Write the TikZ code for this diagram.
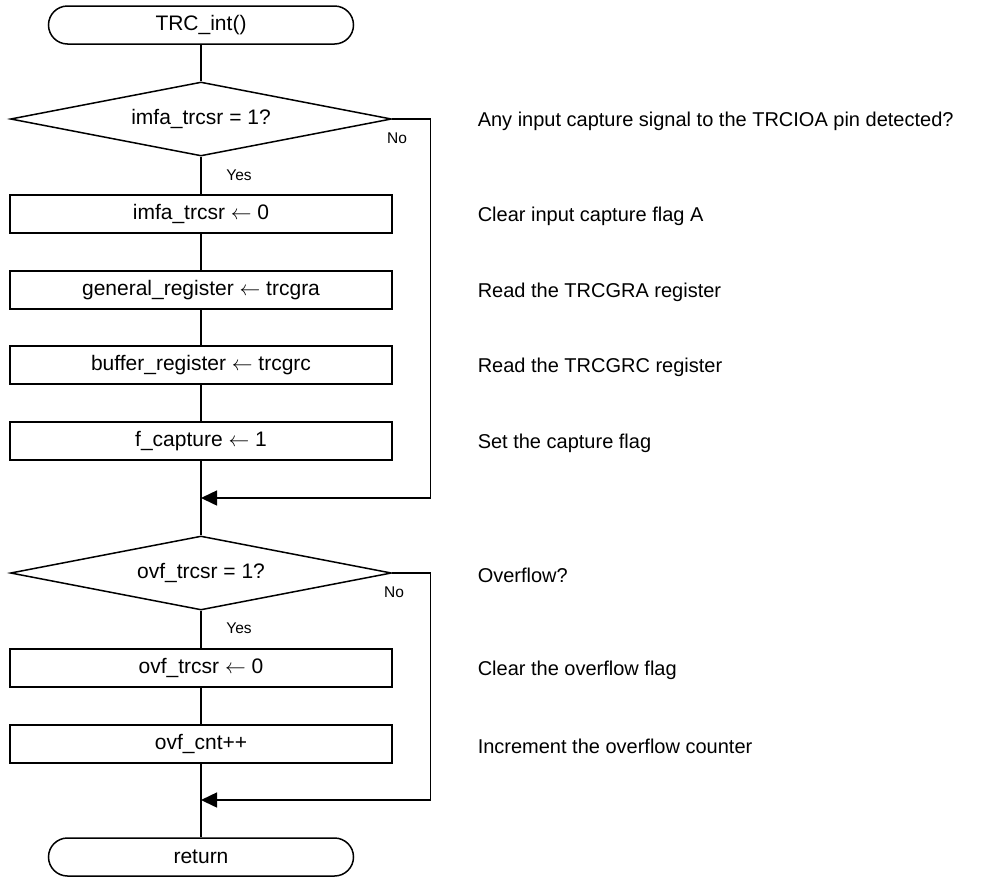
\documentclass[tikz,border=0pt]{standalone}
\usepackage{fontspec}
\setmainfont{Liberation Sans}
\usetikzlibrary{arrows.meta,positioning,shapes.geometric}

\newcommand{\getsarrow}{$\leftarrow$}

\begin{document}
\begin{tikzpicture}[
    x=1pt,
    y=-1pt,
    term/.style={draw, rounded corners=19pt, minimum width=305pt, minimum height=38pt, inner sep=0pt, font=\fontsize{21}{24}\selectfont},
    decision/.style={draw, diamond, aspect=5.15, minimum width=381pt, minimum height=74pt, inner sep=0pt, font=\fontsize{21}{24}\selectfont},
    process/.style={draw, rectangle, minimum width=382pt, minimum height=38pt, inner sep=0pt, font=\fontsize{21}{24}\selectfont},
    note/.style={anchor=west, inner sep=0pt, font=\fontsize{20}{24}\selectfont},
    branch/.style={inner sep=0pt, font=\fontsize{15.5}{18}\selectfont},
    arrow/.style={-{Triangle[length=16pt, width=15pt]}},
    line width=1.5pt
  ]
    \useasboundingbox (0,0) rectangle (995,876);

    % -- Ablauf, linke Spalte --
    \node[term]     (start) at (201, 25)  {TRC\_int()};
    \node[decision] (dec1)  at (201, 119) {imfa\_trcsr = 1?};
    \node[process]  (clra)  at (201, 214) {imfa\_trcsr \getsarrow{} 0};
    \node[process]  (rdgra) at (201, 290) {general\_register \getsarrow{} trcgra};
    \node[process]  (rdgrc) at (201, 365) {buffer\_register \getsarrow{} trcgrc};
    \node[process]  (setf)  at (201, 441) {f\_capture \getsarrow{} 1};
    \coordinate     (join1) at (201, 498);
    \node[decision] (dec2)  at (201, 573) {ovf\_trcsr = 1?};
    \node[process]  (clrov) at (201, 668) {ovf\_trcsr \getsarrow{} 0};
    \node[process]  (incov) at (201, 744) {ovf\_cnt++};
    \coordinate     (join2) at (201, 800);
    \node[term]     (ret)   at (201, 857) {return};

    % -- Verzweigungen --
    \node[branch] (no1)  at (397, 138) {No};
    \node[branch] (yes1) at (239, 175) {Yes};
    \node[branch] (no2)  at (394, 592) {No};
    \node[branch] (yes2) at (239, 628) {Yes};

    % -- Kommentare rechts --
    \node[note] (n1) at (477, 121) {Any input capture signal to the TRCIOA pin detected?};
    \node[note] (n2) at (477, 216) {Clear input capture flag A};
    \node[note] (n3) at (477, 292) {Read the TRCGRA register};
    \node[note] (n4) at (477, 367) {Read the TRCGRC register};
    \node[note] (n5) at (477, 443) {Set the capture flag};
    \node[note] (n6) at (477, 575) {Overflow?};
    \node[note] (n7) at (477, 670) {Clear the overflow flag};
    \node[note] (n8) at (477, 746) {Increment the overflow counter};

    % -- Verbindungen --
    \draw (start) -- (dec1);
    \draw (dec1) -- (clra);
    \draw (clra) -- (rdgra);
    \draw (rdgra) -- (rdgrc);
    \draw (rdgrc) -- (setf);
    \draw (setf) -- (dec2);
    \draw (dec2) -- (clrov);
    \draw (clrov) -- (incov);
    \draw (incov) -- (ret);

    % -- Nein-Zweige --
    \draw[arrow] (dec1.east) -- ++(38,0) |- (join1);
    \draw[arrow] (dec2.east) -- ++(38,0) |- (join2);
  \end{tikzpicture}
\end{document}
